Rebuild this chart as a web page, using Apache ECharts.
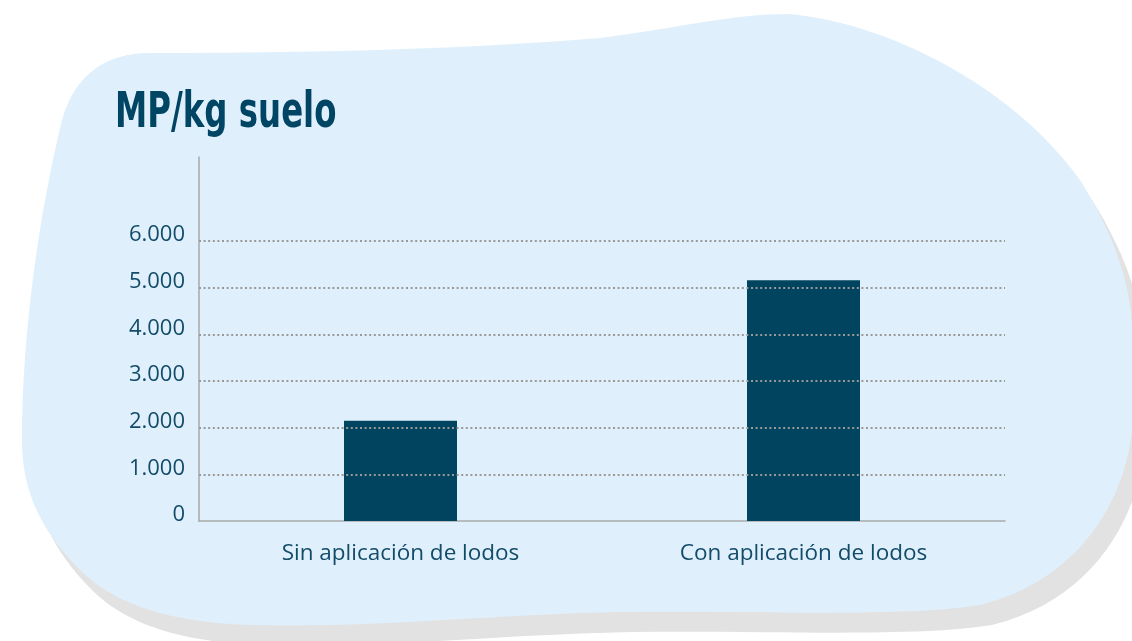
<!DOCTYPE html>
<html>
<head>
<meta charset="utf-8">
<title>MP/kg suelo</title>
<script src="https://cdn.jsdelivr.net/npm/echarts@6/dist/echarts.min.js"></script>
<style>
  html, body { margin: 0; padding: 0; background: #ffffff; }
  #chart { width: 1132px; height: 641px; }
</style>
</head>
<body>
<div id="chart"></div>
<script>
const categories = ["Sin aplicación de lodos", "Con aplicación de lodos"]
const mpValues = [2150, 5160]
const gridValues = [1000, 2000, 3000, 4000, 5000, 6000]
const lastTick = 6000

const textColor = "#134b69"
const barColor = "#01445f"

// background blob, decoration only
const blobPath =
  "M150 53 C330 53 480 48 600 38 C680 28 730 14 790 14 " +
  "C900 25 1020 95 1080 180 C1115 235 1132 290 1132 330 L1132 430 " +
  "C1125 500 1080 580 980 605 C900 618 750 610 620 612 " +
  "C480 615 380 628 250 625 C160 622 110 600 80 570 " +
  "C40 530 22 490 22 440 C22 330 40 210 62 120 C75 75 105 53 150 53 Z"

echarts.graphic.registerShape("blob", echarts.graphic.extendPath(blobPath, {}))

function fmt(v) {
  if (v > lastTick) return ""
  return String(v).replace(/\B(?=(\d{3})+(?!\d))/g, ".")
}

const chart = echarts.init(document.getElementById("chart"))

chart.setOption({
  animation: false,
  graphic: [
    {
      type: "blob",
      z: -10,
      silent: true,
      x: 12,
      y: 20,
      style: { fill: "#e2e2e2" },
    },
    {
      type: "blob",
      z: -9,
      silent: true,
      style: { fill: "#dff0fc" },
    },
    {
      type: "text",
      x: 115,
      y: 114,
      scaleX: 0.72,
      silent: true,
      style: {
        text: "MP/kg suelo",
        fill: "#004563",
        font: "bold 50px 'DejaVu Sans Condensed', sans-serif",
        verticalAlign: "middle",
      },
    },
  ],
  grid: {
    left: 199,
    right: 127,
    top: 157,
    bottom: 120,
  },
  xAxis: {
    type: "category",
    data: categories,
    axisTick: { show: false },
    axisLine: {
      lineStyle: { color: "#a9a9a9", width: 1.5 },
    },
    axisLabel: {
      color: textColor,
      fontFamily: "'Open Sans', sans-serif",
      fontSize: 22.5,
      margin: 21,
    },
  },
  yAxis: {
    type: "value",
    min: 0,
    max: 7800,
    interval: 1000,
    axisLine: {
      show: true,
      lineStyle: { color: "#a9a9a9", width: 1.5 },
    },
    axisTick: { show: false },
    splitLine: { show: false },
    axisLabel: {
      color: textColor,
      fontFamily: "'Open Sans', sans-serif",
      fontSize: 22,
      margin: 14,
      verticalAlign: "bottom",
      lineHeight: 12,
      formatter: fmt,
    },
  },
  series: [
    {
      type: "bar",
      data: mpValues,
      barWidth: 113,
      itemStyle: { color: barColor },
      markLine: {
        silent: true,
        symbol: "none",
        z: 5,
        label: { show: false },
        lineStyle: {
          color: "#999999",
          type: [2, 2.6],
          width: 2,
        },
        data: gridValues.map(v => ({ yAxis: v })),
      },
    },
  ],
})
</script>
</body>
</html>
